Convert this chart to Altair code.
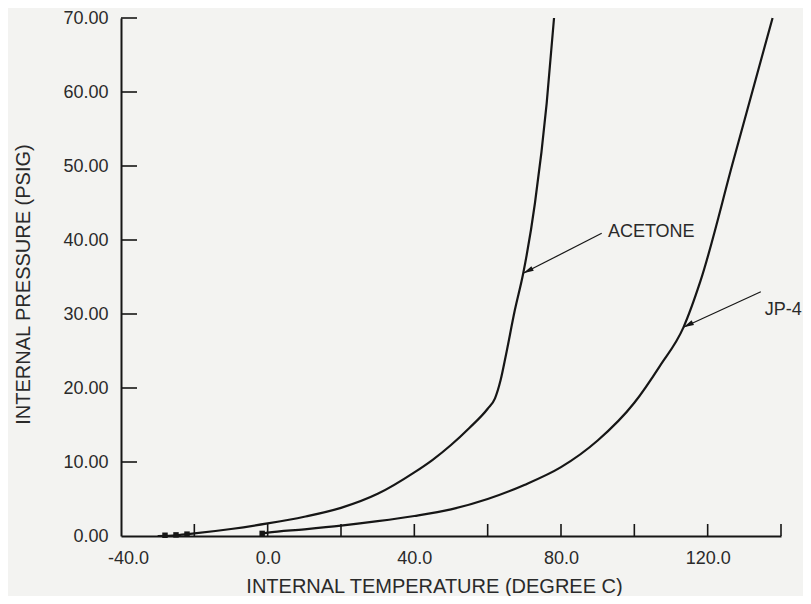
import altair as alt
import pandas as pd

# ---- data ----
acetone_t = [-30, -25, -20, -10, 0, 10, 20, 30, 40, 45, 50, 55, 60, 62, 63.5, 65, 67.4, 69.7, 72.9, 76.1, 78.1]
acetone_p = [0.0, 0.1, 0.35, 0.95, 1.7, 2.6, 3.8, 5.7, 8.6, 10.3, 12.3, 14.6, 17.2, 18.6, 21.0, 24.5, 30.5, 35.5, 45.0, 58.5, 70.0]

jp4_t = [-2, 0, 10, 20, 30, 40, 50, 60, 70, 80, 90, 100, 107, 113.4, 118, 127, 137.7]
jp4_p = [0.3, 0.45, 0.9, 1.4, 2.0, 2.7, 3.6, 5.0, 6.9, 9.3, 12.9, 18.0, 23.0, 28.2, 34.4, 50.7, 70.0]

marker_t = [-28, -25, -22, -1.5]
marker_p = [0.1, 0.15, 0.25, 0.35]

x_label_values = [-40, 0, 40, 80, 120]
y_label_values = [0, 10, 20, 30, 40, 50, 60, 70]
x_tick_values = [-20, 0, 20, 40, 60, 80, 100, 120, 140]
y_tick_values = [10, 20, 30, 40, 50, 60, 70]

label_text = ["ACETONE", "JP-4"]
label_t = [92.8, 135.6]
label_p = [41.1, 30.5]
leader_t_from = [91.1, 134.5]
leader_p_from = [40.9, 33.0]
leader_t_to = [69.7, 113.4]
leader_p_to = [35.5, 28.2]

# ---- tables ----
curves = pd.DataFrame(
    {"t": acetone_t + jp4_t,
     "p": acetone_p + jp4_p,
     "series": ["ACETONE"] * len(acetone_t) + ["JP-4"] * len(jp4_t)}
)
markers = pd.DataFrame({"t": marker_t, "p": marker_p})
xticks = pd.DataFrame({"t": x_tick_values})
yticks = pd.DataFrame({"p": y_tick_values})
labels = pd.DataFrame({"t": label_t, "p": label_p, "text": label_text})
leaders = pd.DataFrame({"t": leader_t_from, "p": leader_p_from,
                        "t2": leader_t_to, "p2": leader_p_to})

FONT = "Liberation Sans"
INK = "#161616"
TXT = "#2a2a2a"

x_axis = alt.Axis(
    values=x_label_values,
    labelExpr="datum.value < 0 ? '-' + format(-datum.value, '.1f') : format(datum.value, '.1f')",
    title="INTERNAL TEMPERATURE (DEGREE C)",
    grid=False, ticks=False, tickSize=0,
    domainColor=INK, domainWidth=2,
    labelFont=FONT, labelFontSize=18, labelColor=TXT, labelPadding=13,
    labelFlush=False, labelOverlap=False,
    labelOffset={"condition": {"test": "datum.value == -40", "value": 7}, "value": 0},
    titleFont=FONT, titleFontSize=20, titleFontWeight="normal", titleColor=TXT,
    titleX=313, titleY=50, titleAlign="center", titleBaseline="middle",
)
y_axis = alt.Axis(
    values=y_label_values, format=".2f",
    title="INTERNAL PRESSURE (PSIG)",
    grid=False, ticks=False, tickSize=0,
    domainColor=INK, domainWidth=2,
    labelFont=FONT, labelFontSize=18, labelColor=TXT, labelPadding=13,
    labelFlush=False, labelOverlap=False,
    titleFont=FONT, titleFontSize=20, titleFontWeight="normal", titleColor=TXT,
    titleX=-98, titleY=266, titleAngle=270, titleAlign="center", titleBaseline="middle",
)
x_scale = alt.Scale(domain=[-40, 140], nice=False, zero=False)
y_scale = alt.Scale(domain=[0, 70], nice=False, zero=False)

X = alt.X("t:Q", scale=x_scale, axis=x_axis)
Y = alt.Y("p:Q", scale=y_scale, axis=y_axis)

lines = alt.Chart(curves).mark_line(
    color=INK, strokeWidth=2.2, interpolate="monotone"
).encode(x=X, y=Y, detail="series:N")

start_marks = alt.Chart(markers).mark_square(
    color=INK, size=30, opacity=1
).encode(x=X, y=Y)

xtick_rules = alt.Chart(xticks).mark_rule(color=INK, strokeWidth=1.6).encode(
    x=X, y=alt.value(518), y2=alt.value(506)
)
ytick_rules = alt.Chart(yticks).mark_rule(color=INK, strokeWidth=1.6).encode(
    y=Y, x=alt.value(0), x2=alt.value(16)
)

leader_lines = alt.Chart(leaders).mark_rule(color=INK, strokeWidth=1.2).encode(
    x=X, y=Y, x2="t2:Q", y2="p2:Q"
)
arrow_heads = alt.Chart(leaders).mark_point(
    shape="M0,0L0.5,2L-0.5,2Z", filled=True, color=INK, opacity=1,
    size=110, angle=243, strokeWidth=0
).encode(
    x=alt.X("t2:Q", scale=x_scale, axis=x_axis),
    y=alt.Y("p2:Q", scale=y_scale, axis=y_axis),
)

label_marks = alt.Chart(labels).mark_text(
    align="left", baseline="middle", font=FONT, fontSize=18, color=TXT
).encode(x=X, y=Y, text="text:N")

chart = alt.layer(
    lines, start_marks, xtick_rules, ytick_rules, leader_lines, arrow_heads, label_marks
).properties(
    width=660,
    height=518,
    padding={"left": 113, "top": 10, "right": 22, "bottom": 60},
    autosize=alt.AutoSizeParams(type="none"),
    background="#f3f3f1",
).configure_view(strokeWidth=0)

chart.save("out.html", embed_options={"renderer": "svg", "actions": False})
